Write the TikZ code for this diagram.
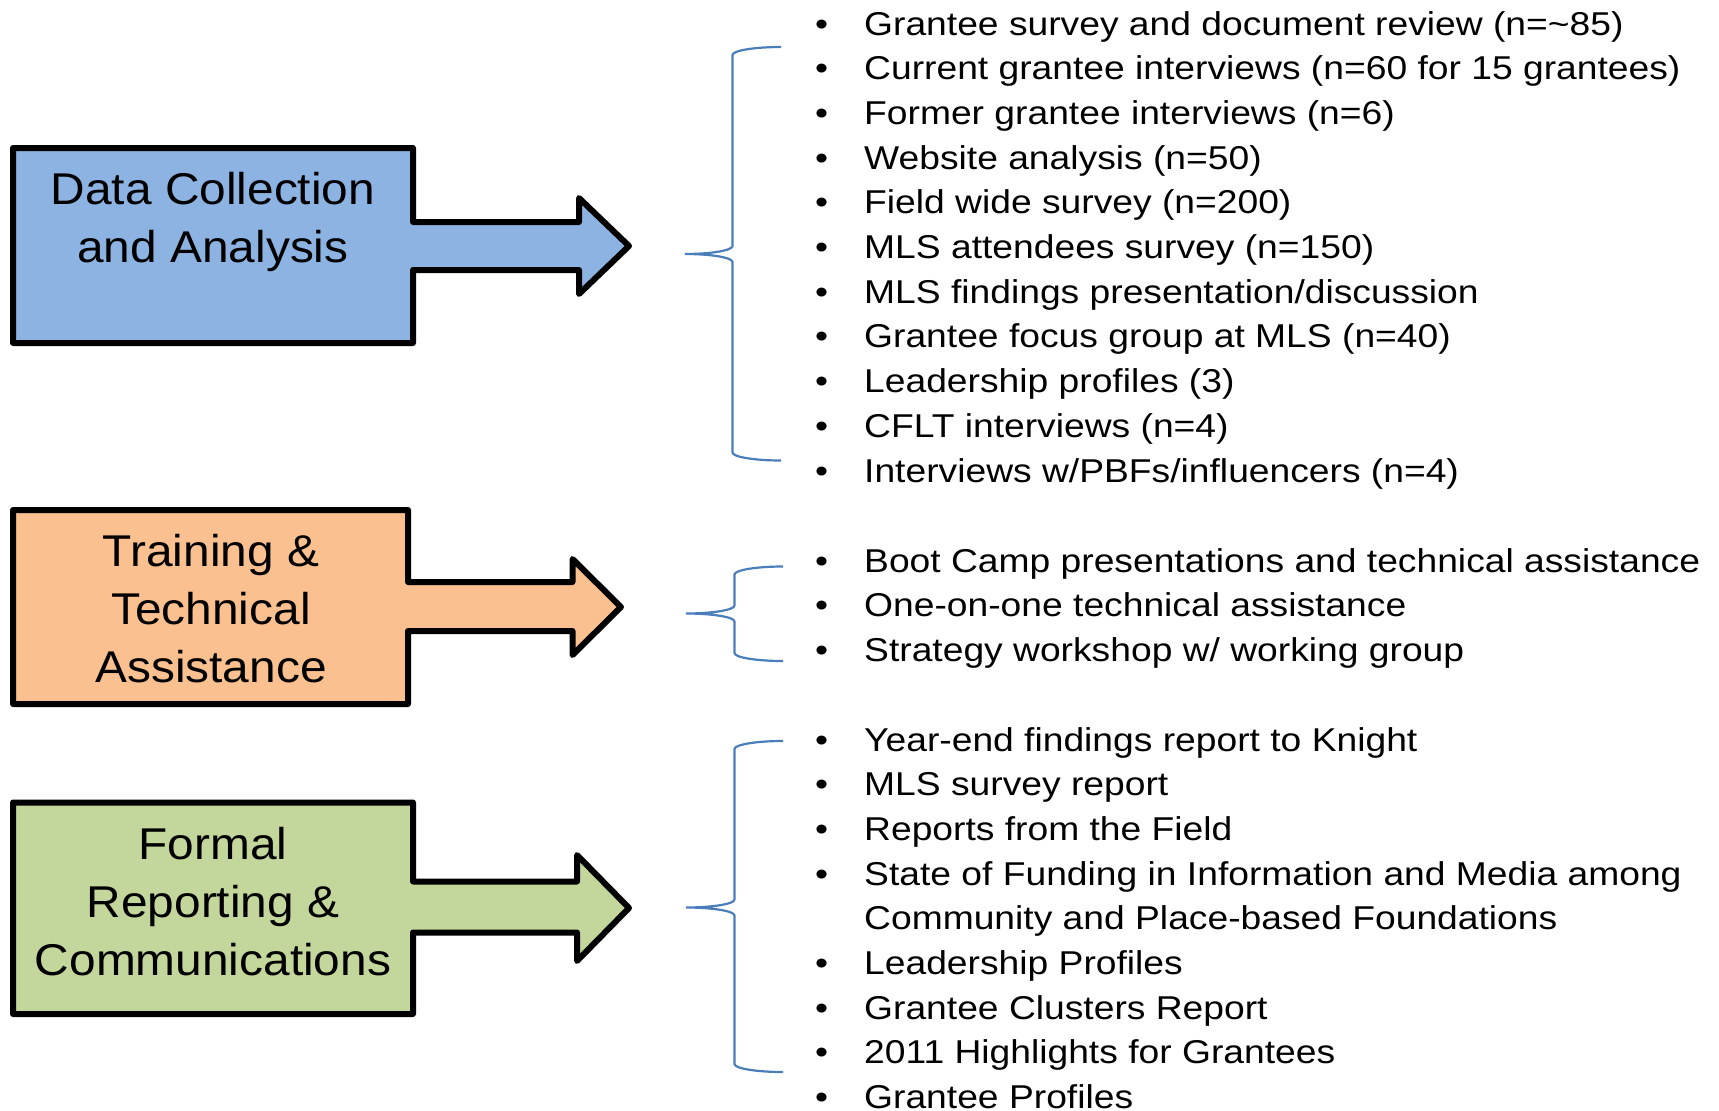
\documentclass[tikz,border=0pt]{standalone}
\usepackage{fontspec}
\setmainfont{Liberation Sans}
\newfontfamily\listfont[FakeStretch=1.128]{Liberation Sans}
\newfontfamily\boxfont[FakeStretch=1.075]{Liberation Sans}
\definecolor{boxblue}{HTML}{8DB3E2}
\definecolor{boxorange}{HTML}{FAC090}
\definecolor{boxgreen}{HTML}{C3D69B}
\definecolor{bracecol}{HTML}{4A7EBB}
\newcommand\bul{\makebox[49pt][l]{•}}
\newcommand\nobul{\hspace*{49pt}}
% xt xv xe ytop ymid ybot
\newcommand\drawbrace[6]{%
 \draw[bracestyle] (#3,#4) .. controls ({#3-0.552*(#3-#2)},#4) and (#2,{#4+3.6}) .. (#2,{#4+8})
 -- (#2,{#5-8}) .. controls (#2,{#5-3.6}) and ({#1+0.552*(#2-#1)},#5) .. (#1,#5)
 .. controls ({#1+0.552*(#2-#1)},#5) and (#2,{#5+3.6}) .. (#2,{#5+8})
 -- (#2,{#6-8}) .. controls (#2,{#6-3.6}) and ({#3-0.552*(#3-#2)},#6) .. (#3,#6);}
\tikzset{
 blockarrow/.style={draw=black, line width=6pt, line join=round},
 bracestyle/.style={draw=bracecol, line width=2.2pt},
 boxtext/.style={inner sep=0pt, font=\boxfont\fontsize{44.5}{58}\selectfont},
 listtext/.style={inner sep=0pt, anchor=base west, font=\listfont\fontsize{33}{44.7}\selectfont}
}
\begin{document}
\begin{tikzpicture}[x=1pt,y=-1pt]
\useasboundingbox (0,0) rectangle (1719,1111);
% block arrows
\draw[blockarrow, fill=boxblue] (13,148) -- (413,148) -- (413,222) -- (579,222) -- (579,198) -- (629,246) -- (579,294) -- (579,270) -- (413,270) -- (413,343) -- (13,343) -- cycle;
\draw[blockarrow, fill=boxorange] (13,510) -- (408,510) -- (408,582) -- (572.5,582) -- (572.5,559) -- (621,607) -- (572.5,655) -- (572.5,631) -- (408,631) -- (408,704) -- (13,704) -- cycle;
\draw[blockarrow, fill=boxgreen] (13,802.5) -- (413,802.5) -- (413,881.5) -- (577,881.5) -- (577,855) -- (629,908) -- (577,961) -- (577,932.5) -- (413,932.5) -- (413,1014) -- (13,1014) -- cycle;
% box labels
\node[boxtext, anchor=base] (dc) at (213,204) {\begin{tabular}[t]{@{}c@{}}Data Collection\\and Analysis\end{tabular}};
\node[boxtext, anchor=base] (ta) at (211,566) {\begin{tabular}[t]{@{}c@{}}Training \&\\Technical\\Assistance\end{tabular}};
\node[boxtext, anchor=base] (fr) at (213,859) {\begin{tabular}[t]{@{}c@{}}Formal\\Reporting \&\\Communications\end{tabular}};
% braces
\drawbrace{685}{732.5}{781}{47}{254}{460.5}
\drawbrace{686}{734.5}{783}{566.5}{613.5}{661}
\drawbrace{686}{734.5}{783}{741}{907.5}{1072}
% lists
\node[listtext] (l1) at (815,35) {\begin{tabular}[t]{@{}l@{}}
\bul Grantee survey and document review (n=\textasciitilde 85)\\
\bul Current grantee interviews (n=60 for 15 grantees)\\
\bul Former grantee interviews (n=6)\\
\bul Website analysis (n=50)\\
\bul Field wide survey (n=200)\\
\bul MLS attendees survey (n=150)\\
\bul MLS findings presentation/discussion\\
\bul Grantee focus group at MLS (n=40)\\
\bul Leadership profiles (3)\\
\bul CFLT interviews (n=4)\\
\bul Interviews w/PBFs/influencers (n=4)
\end{tabular}};
\node[listtext] (l2) at (815,572) {\begin{tabular}[t]{@{}l@{}}
\bul Boot Camp presentations and technical assistance\\
\bul One-on-one technical assistance\\
\bul Strategy workshop w/ working group
\end{tabular}};
\node[listtext] (l3) at (815,751) {\begin{tabular}[t]{@{}l@{}}
\bul Year-end findings report to Knight\\
\bul MLS survey report\\
\bul Reports from the Field\\
\bul State of Funding in Information and Media among\\
\nobul Community and Place-based Foundations\\
\bul Leadership Profiles\\
\bul Grantee Clusters Report\\
\bul 2011 Highlights for Grantees\\
\bul Grantee Profiles
\end{tabular}};
\end{tikzpicture}
\end{document}
